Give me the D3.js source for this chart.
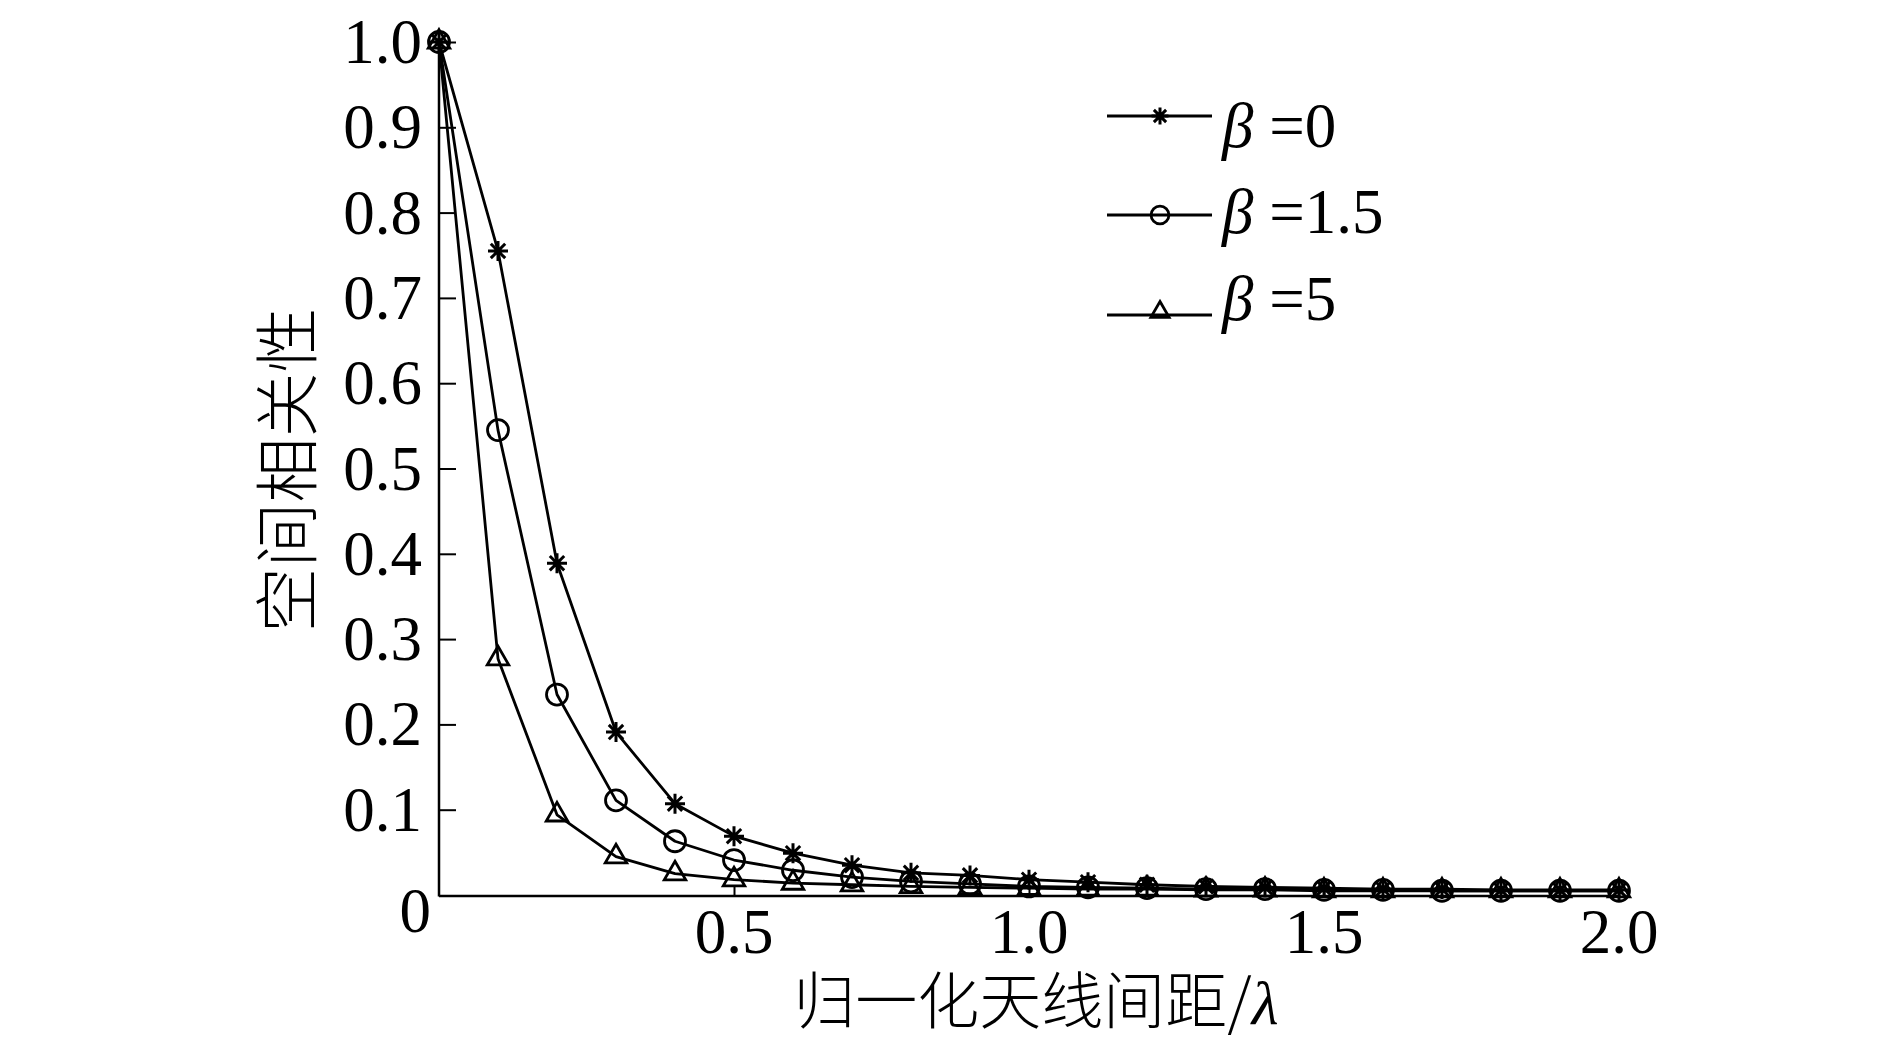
<!DOCTYPE html>
<html>
<head>
<meta charset="utf-8">
<script src="https://cdn.jsdelivr.net/npm/d3@7"></script>
<style>
  html, body { margin: 0; padding: 0; background: #fff; }
  svg { display: block; }
</style>
</head>
<body>
<svg id="chart" width="1890" height="1046"></svg>
<script>
// ---- data ----
const distances = [0, 0.1, 0.2, 0.3, 0.4, 0.5, 0.6, 0.7, 0.8, 0.9, 1.0, 1.1, 1.2, 1.3, 1.4, 1.5, 1.6, 1.7, 1.8, 1.9, 2.0];
const beta0   = [1.0, 0.755, 0.389, 0.191, 0.107, 0.069, 0.049, 0.035, 0.026, 0.023, 0.018, 0.015, 0.012, 0.010, 0.009, 0.008, 0.007, 0.007, 0.006, 0.006, 0.006];
const beta15  = [1.0, 0.545, 0.235, 0.111, 0.063, 0.041, 0.029, 0.021, 0.016, 0.013, 0.010, 0.009, 0.008, 0.007, 0.007, 0.006, 0.006, 0.005, 0.005, 0.005, 0.005];
const beta5   = [1.0, 0.277, 0.094, 0.045, 0.025, 0.018, 0.014, 0.012, 0.010, 0.009, 0.008, 0.007, 0.007, 0.006, 0.006, 0.005, 0.005, 0.005, 0.005, 0.005, 0.005];
const seriesNames = ["=0", "=1.5", "=5"];
const markerTypes = ["star", "circle", "triangle"];
const yTicks = [0.1, 0.2, 0.3, 0.4, 0.5, 0.6, 0.7, 0.8, 0.9, 1.0];
const yTickLabels = ["0.1", "0.2", "0.3", "0.4", "0.5", "0.6", "0.7", "0.8", "0.9", "1.0"];
const xTicks = [0.5, 1.0, 1.5, 2.0];
const xTickLabels = ["0.5", "1.0", "1.5", "2.0"];
const xTitle = "归一化天线间距/";
const xTitleSymbol = "λ";
const yTitle = "空间相关性";

// ---- setup ----
const svg = d3.select("#chart");
const x = d3.scaleLinear().domain([0, 2]).range([439, 1619]);
const y = d3.scaleLinear().domain([0, 1]).range([895, 42]);
const serif = "'Liberation Serif', 'Times New Roman', serif";
const cjk = "'Noto Sans CJK SC', 'Noto Sans', sans-serif";
const black = "#000";

// axes lines
svg.append("line").attr("x1", x(0)).attr("x2", x(0)).attr("y1", y(1)).attr("y2", y(0) + 1.5)
  .attr("stroke", black).attr("stroke-width", 2.5);
svg.append("line").attr("x1", x(0)).attr("x2", x(2)).attr("y1", y(0) + 1).attr("y2", y(0) + 1)
  .attr("stroke", black).attr("stroke-width", 2.5);

// y ticks (inward)
const yAxis = d3.axisRight(y).tickValues(yTicks).tickSize(17).tickFormat("");
const yg = svg.append("g").attr("transform", `translate(${x(0)},0)`).call(yAxis);
yg.select(".domain").remove();
yg.selectAll(".tick line").attr("stroke", black).attr("stroke-width", 2);

// x ticks (inward)
const xAxis = d3.axisTop(x).tickValues(xTicks).tickSize(11).tickFormat("");
const xg = svg.append("g").attr("transform", `translate(0,${y(0) + 1})`).call(xAxis);
xg.select(".domain").remove();
xg.selectAll(".tick line").attr("stroke", black).attr("stroke-width", 2);

// y tick labels
svg.append("g").selectAll("text").data(yTicks).join("text")
  .attr("x", 422).attr("y", d => y(d) + 21)
  .attr("text-anchor", "end")
  .attr("font-family", serif).attr("font-size", 63).attr("fill", black)
  .text((d, i) => yTickLabels[i]);
// origin label
svg.append("text").attr("x", 431).attr("y", 932).attr("text-anchor", "end")
  .attr("font-family", serif).attr("font-size", 63).attr("fill", black).text("0");

// x tick labels
svg.append("g").selectAll("text").data(xTicks).join("text")
  .attr("x", d => x(d)).attr("y", 953)
  .attr("text-anchor", "middle")
  .attr("font-family", serif).attr("font-size", 63).attr("fill", black)
  .text((d, i) => xTickLabels[i]);

// axis titles
const xt = svg.append("text").attr("x", 1036).attr("y", 1024)
  .attr("text-anchor", "middle").attr("font-family", cjk).attr("font-weight", 300)
  .attr("font-size", 62).attr("fill", black);
xt.append("tspan").text(xTitle);
xt.append("tspan").attr("font-family", serif).attr("font-style", "italic").text(xTitleSymbol);

svg.append("text")
  .attr("transform", "translate(311,470) rotate(-90)")
  .attr("text-anchor", "middle").attr("font-family", cjk).attr("font-weight", 300)
  .attr("font-size", 65).attr("fill", black).text(yTitle);

// ---- markers ----
function drawMarker(g, type, cx, cy, scale = 1) {
  if (type === "star") {
    const r = 10 * scale, d = r * 0.72;
    const p = `M${cx - r},${cy}L${cx + r},${cy}M${cx},${cy - r}L${cx},${cy + r}` +
              `M${cx - d},${cy - d}L${cx + d},${cy + d}M${cx - d},${cy + d}L${cx + d},${cy - d}`;
    g.append("path").attr("d", p).attr("stroke", black).attr("stroke-width", 3).attr("fill", "none");
  } else if (type === "circle") {
    g.append("circle").attr("cx", cx).attr("cy", cy).attr("r", 10.5 * scale)
      .attr("stroke", black).attr("stroke-width", 2.8).attr("fill", "none");
  } else {
    const sym = d3.symbol(d3.symbolTriangle, 200 * scale * scale);
    g.append("path").attr("d", sym()).attr("transform", `translate(${cx},${cy})`)
      .attr("stroke", black).attr("stroke-width", 2.8).attr("fill", "none");
  }
}

const allSeries = [beta0, beta15, beta5];
const line = d3.line().x(d => x(d[0])).y(d => y(d[1]));
const plot = svg.append("g");
allSeries.forEach((vals, si) => {
  const pts = distances.map((dx, i) => [dx, vals[i]]);
  plot.append("path").datum(pts).attr("d", line)
    .attr("fill", "none").attr("stroke", black).attr("stroke-width", 2.8).attr("stroke-linejoin", "round");
  const mg = plot.append("g");
  pts.forEach(p => drawMarker(mg, markerTypes[si], x(p[0]), y(p[1])));
});

// ---- legend ----
const legLineY = [116, 215, 315];
const legTextY = [147, 233, 320];
const legMarkerDY = [0, 0, -3];
const leg = svg.append("g");
seriesNames.forEach((name, i) => {
  leg.append("line").attr("x1", 1107).attr("x2", 1212).attr("y1", legLineY[i]).attr("y2", legLineY[i])
    .attr("stroke", black).attr("stroke-width", 2.8);
  drawMarker(leg, markerTypes[i], 1160, legLineY[i] + legMarkerDY[i], 0.85);
  const t = leg.append("text").attr("x", 1222).attr("y", legTextY[i])
    .attr("font-family", serif).attr("font-size", 63).attr("fill", black);
  t.append("tspan").attr("font-style", "italic").text("β");
  t.append("tspan").text(" " + name);
});
</script>
</body>
</html>
